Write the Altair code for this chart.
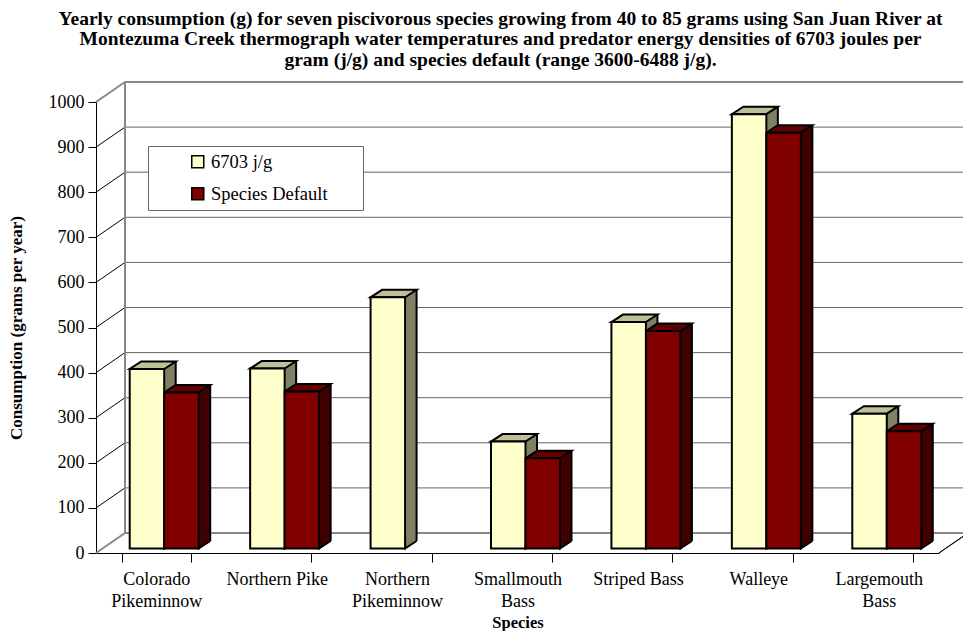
import altair as alt
import pandas as pd

# ---------------- data ----------------
species = ["Colorado Pikeminnow", "Northern Pike", "Northern Pikeminnow",
           "Smallmouth Bass", "Striped Bass", "Walleye", "Largemouth Bass"]
label_lines = [["Colorado", "Pikeminnow"], ["Northern Pike"], ["Northern", "Pikeminnow"],
               ["Smallmouth", "Bass"], ["Striped Bass"], ["Walleye"], ["Largemouth", "Bass"]]
series = ["6703 j/g", "Species Default"]
vals_6703 = [398, 399, 557, 237, 502, 963, 299]
vals_default = [346, 348, None, 200, 482, 922, 260]
y_ticks = [0, 100, 200, 300, 400, 500, 600, 700, 800, 900, 1000]

rows = []
for sp, a, b in zip(species, vals_6703, vals_default):
    if a is not None:
        rows.append({"species": sp, "series": series[0], "value": a})
    if b is not None:
        rows.append({"species": sp, "series": series[1], "value": b})
df = pd.DataFrame(rows)
ticks_df = pd.DataFrame({"tick": y_ticks})
inner_ticks = ticks_df[(ticks_df.tick > 0) & (ticks_df.tick < 1000)]
edge_ticks = ticks_df[(ticks_df.tick == 0) | (ticks_df.tick == 1000)]

# ---------------- layout ----------------
W, H = 843, 451
DX, DY = 29, 20                 # wall depth
STEP = W / 7
PI = 1 - 69 / STEP              # category band padding (group width 69)
h = 69 / 4                      # half bar width
PI_BAR = 1 - (2 * h) / STEP     # one-bar band padding
BX, BY = 8, 4.5                 # bar plane shift
ddx, ddy = 11.5, 7.5            # bar depth
R = 20.0                        # custom symbol scale = sqrt(size)/2
SIZE = (2 * R) ** 2
SW = 2                          # bar outline width

def fmt(v):
    return f"{v / R:.4f}"

top_path = (f"M{fmt(-h)},0 L{fmt(h)},0 L{fmt(h + ddx)},{fmt(-ddy)} "
            f"L{fmt(-h + ddx)},{fmt(-ddy)} Z")
bot_path = f"M{fmt(h)},{fmt(-ddy)} L{fmt(h)},0 L{fmt(h + ddx)},{fmt(-ddy)}"

FONT = "Liberation Serif"
front_colors = ["#FFFFCC", "#800000"]
top_colors = ["#BFBF99", "#600000"]
side_colors = ["#808066", "#400000"]

label_map = "{" + ", ".join(
    "'" + s + "': [" + ", ".join("'" + l + "'" for l in ls) + "]"
    for s, ls in zip(species, label_lines)) + "}"

yscale = alt.Scale(domain=[0, 1000], nice=False)


def xs(shift):
    return alt.X("species:N", sort=species, axis=None,
                 scale=alt.Scale(domain=species, paddingInner=PI_BAR,
                                 paddingOuter=PI_BAR / 2, range=[shift, W + shift]))


# ---------------- walls ----------------
back_grid = alt.Chart(inner_ticks).mark_rule(
    color="#666666", strokeWidth=1, yOffset=-DY, y2Offset=-DY
).encode(
    y=alt.Y("tick:Q", scale=yscale,
            axis=alt.Axis(values=y_ticks, format="d", grid=False, domainColor="black",
                          domainWidth=1, tickColor="black", tickSize=8, labelFont=FONT,
                          labelFontSize=18, labelPadding=4, labelColor="black",
                          title="Consumption (grams per year)", titleFont=FONT,
                          titleFontSize=17, titleFontWeight="bold", titleColor="black",
                          titlePadding=23)),
    y2="tick:Q",
    x=alt.value(DX), x2=alt.value(W + DX),
)
back_edges = alt.Chart(edge_ticks).mark_rule(
    color="#888888", strokeWidth=2, yOffset=-DY, y2Offset=-DY
).encode(y="tick:Q", y2="tick:Q", x=alt.value(DX), x2=alt.value(W + DX))
left_diag = alt.Chart(inner_ticks).mark_rule(
    color="black", strokeWidth=1, y2Offset=-DY
).encode(y="tick:Q", y2="tick:Q", x=alt.value(0), x2=alt.value(DX))
left_edges = alt.Chart(edge_ticks).mark_rule(
    color="#888888", strokeWidth=2, y2Offset=-DY
).encode(y="tick:Q", y2="tick:Q", x=alt.value(0), x2=alt.value(DX))
back_left = alt.Chart(edge_ticks).mark_rule(
    color="#888888", strokeWidth=2, yOffset=-DY, y2Offset=-DY
).encode(y=alt.datum(0), y2=alt.datum(1000), x=alt.value(DX))
back_right = alt.Chart(edge_ticks).mark_rule(
    color="#888888", strokeWidth=2, yOffset=-DY, y2Offset=-DY
).encode(y=alt.datum(0), y2=alt.datum(1000), x=alt.value(W + DX))
right_floor = alt.Chart(edge_ticks).mark_rule(
    color="black", strokeWidth=1, y2Offset=-DY
).encode(y=alt.datum(0), y2=alt.datum(0), x=alt.value(W), x2=alt.value(W + DX))

# ---------------- x axis (category) ----------------
axis_layer = alt.Chart(df).mark_point(opacity=0).encode(
    x=alt.X("species:N", sort=species,
            scale=alt.Scale(domain=species, paddingInner=PI, paddingOuter=PI / 2),
            axis=alt.Axis(tickBand="extent", domainColor="black", tickColor="black",
                          tickSize=9, labelAngle=0, labelFont=FONT, labelFontSize=18,
                          labelColor="black", labelPadding=8, labelLineHeight=22,
                          labelExpr=label_map + "[datum.value]",
                          title="Species", titleFont=FONT, titleFontSize=16.5,
                          titleFontWeight="bold", titleColor="black", titlePadding=4)),
    y=alt.Y("value:Q", scale=yscale),
)

# ---------------- bars (one set of layers per series) ----------------
pad_chars = "\u2800\u2800"
legend = alt.Legend(
    title=None, orient="none", legendX=52, legendY=44,
    fillColor="white", strokeColor="#666666", padding=6.5,
    symbolType="square", symbolSize=144, symbolStrokeColor="black",
    symbolStrokeWidth=1.5, symbolOffset=34, labelFont=FONT,
    labelFontSize=18.5, labelColor="black", rowPadding=13, labelOffset=4,
    labelExpr="datum.label + '" + pad_chars + "'")

backs, tris, edges, tops, fronts = [], [], [], [], []
for i, s in enumerate(series):
    shift = BX + (-h if i == 0 else h)
    sdf = df[df.series == s]
    base = alt.Chart(sdf)
    yv = alt.Y("value:Q", scale=yscale)
    backs.append(base.mark_bar(
        yOffset=-BY - ddy, y2Offset=-BY - ddy, strokeWidth=0, color=side_colors[i]
    ).encode(x=xs(shift + ddx), y=yv))
    tris.append(base.mark_point(
        shape=bot_path, size=SIZE, filled=True, opacity=1, fill=side_colors[i],
        stroke="black", strokeWidth=SW, yOffset=-BY
    ).encode(x=xs(shift), y=alt.datum(0)))
    edges.append(base.mark_rule(
        color="black", strokeWidth=SW, yOffset=-BY - ddy, y2Offset=-BY - ddy
    ).encode(x=xs(shift + h + ddx), y=yv, y2=alt.datum(0)))
    tops.append(base.mark_point(
        shape=top_path, size=SIZE, filled=True, opacity=1, fill=top_colors[i],
        stroke="black", strokeWidth=SW, yOffset=-BY
    ).encode(x=xs(shift), y=yv))
    fronts.append(base.mark_bar(
        yOffset=-BY, y2Offset=-BY, stroke="black", strokeWidth=SW
    ).encode(
        x=xs(shift), y=yv,
        color=alt.Color("series:N", sort=series,
                        scale=alt.Scale(domain=series, range=front_colors),
                        legend=legend)))

chart = alt.layer(
    back_grid, back_edges, left_diag, left_edges, back_left, back_right, right_floor,
    axis_layer, *backs, *tris, *edges, *tops, *fronts
).resolve_scale(
    x="independent"
).properties(
    width=W, height=H,
    padding={"left": 88, "top": 94, "right": 24, "bottom": 78},
    autosize=alt.AutoSizeParams(type="none"),
    title=alt.TitleParams(
        text=["Yearly consumption (g) for seven piscivorous species growing from 40 to 85 grams using San Juan River at",
              "Montezuma Creek thermograph water temperatures and predator energy densities of 6703 joules per",
              "gram (j/g) and species default (range 3600-6488 j/g)."],
        font=FONT, fontSize=19.5, fontWeight="bold", color="black", anchor="middle",
        dx=-17, offset=11, lineHeight=20.5),
).configure_view(stroke=None)

chart.save("out.html", embed_options={"renderer": "svg", "actions": False})
